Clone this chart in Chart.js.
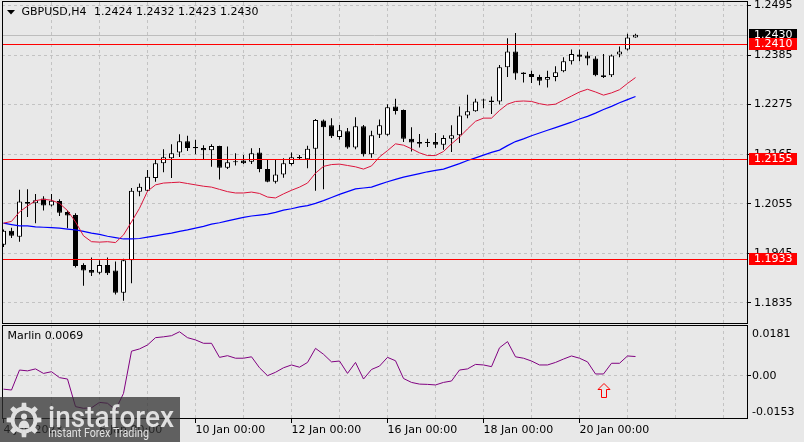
<!DOCTYPE html>
<html><head><meta charset="utf-8">
<script src="https://cdn.jsdelivr.net/npm/chart.js@4.4.1/dist/chart.umd.min.js"></script>
<style>
html,body{margin:0;padding:0;background:#e8e8e8;overflow:hidden}
#wrap{position:relative;width:804px;height:442px;background:#e8e8e8}
.pane{position:absolute;left:0;width:804px}
</style></head><body>
<div id="wrap">
<div class="pane" style="top:0;height:324px"><canvas id="main" width="804" height="324"></canvas></div>
<div class="pane" style="top:324px;height:118px"><canvas id="sub" width="804" height="118"></canvas></div>
</div>
<script>
// ---------------- data ----------------
const symbol = 'GBPUSD,H4';
const open  = [1.1964,1.1995,1.1982,1.2059,1.2056,1.2067,1.2051,1.2061,1.2037,1.2030,
               1.1919,1.1908,1.1902,1.1919,1.1907,1.1858,1.1930,1.2082,1.2084,1.2112,
               1.2145,1.2156,1.2169,1.2194,1.2181,1.2179,1.2174,1.2183,1.2135,1.2147,
               1.2151,1.2148,1.2169,1.2132,1.2104,1.2120,1.2143,1.2159,1.2154,1.2177,
               1.2240,1.2229,1.2203,1.2216,1.2180,1.2227,1.2165,1.2208,1.2208,1.2271,
               1.2263,1.2199,1.2192,1.2190,1.2192,1.2186,1.2199,1.2207,1.2251,1.2260,
               1.2284,1.2284,1.2282,1.2358,1.2393,1.2346,1.2343,1.2336,1.2330,1.2336,
               1.2349,1.2371,1.2386,1.2384,1.2377,1.2340,1.2340,1.2386,1.2397,1.2424];
const high  = [1.1998,1.2002,1.2086,1.2087,1.2077,1.2072,1.2077,1.2065,1.2040,1.2034,
               1.1923,1.1936,1.1930,1.1936,1.1927,1.1933,1.2090,1.2100,1.2130,1.2152,
               1.2176,1.2187,1.2209,1.2206,1.2197,1.2185,1.2187,1.2184,1.2182,1.2167,
               1.2163,1.2178,1.2179,1.2152,1.2154,1.2156,1.2169,1.2163,1.2184,1.2243,
               1.2242,1.2245,1.2230,1.2223,1.2247,1.2230,1.2217,1.2242,1.2276,1.2288,
               1.2264,1.2225,1.2210,1.2199,1.2212,1.2207,1.2229,1.2271,1.2297,1.2288,
               1.2288,1.2293,1.2363,1.2422,1.2434,1.2347,1.2350,1.2341,1.2350,1.2360,
               1.2380,1.2397,1.2397,1.2392,1.2382,1.2387,1.2386,1.2404,1.2432,1.2432];
const low   = [1.1959,1.1979,1.1971,1.2026,1.2012,1.2040,1.2049,1.2028,1.2001,1.1914,
               1.1873,1.1895,1.1899,1.1897,1.1854,1.1840,1.1879,1.2072,1.2083,1.2104,
               1.2125,1.2112,1.2159,1.2172,1.2165,1.2154,1.2137,1.2109,1.2132,1.2140,
               1.2143,1.2143,1.2125,1.2103,1.2100,1.2113,1.2140,1.2152,1.2134,1.2084,
               1.2087,1.2201,1.2197,1.2177,1.2176,1.2160,1.2157,1.2201,1.2206,1.2253,
               1.2192,1.2171,1.2180,1.2181,1.2179,1.2175,1.2170,1.2190,1.2245,1.2259,
               1.2267,1.2254,1.2275,1.2336,1.2330,1.2324,1.2323,1.2318,1.2313,1.2327,
               1.2347,1.2364,1.2371,1.2362,1.2338,1.2334,1.2336,1.2380,1.2395,1.2423];
const close = [1.1995,1.1984,1.2060,1.2055,1.2063,1.2051,1.2062,1.2035,1.2029,1.1917,
               1.1907,1.1902,1.1919,1.1901,1.1858,1.1930,1.2084,1.2093,1.2115,1.2145,
               1.2158,1.2167,1.2194,1.2179,1.2178,1.2174,1.2183,1.2135,1.2147,1.2148,
               1.2145,1.2167,1.2132,1.2104,1.2120,1.2145,1.2158,1.2156,1.2177,1.2241,
               1.2225,1.2205,1.2218,1.2180,1.2227,1.2165,1.2207,1.2229,1.2269,1.2261,
               1.2199,1.2191,1.2188,1.2190,1.2186,1.2201,1.2207,1.2251,1.2260,1.2282,
               1.2284,1.2281,1.2358,1.2393,1.2344,1.2343,1.2336,1.2328,1.2336,1.2347,
               1.2371,1.2387,1.2381,1.2377,1.2340,1.2336,1.2384,1.2393,1.2424,1.2430];
const maFast = [1.2012,1.2016,1.2037,1.2050,1.2062,1.2065,1.2063,1.2056,1.2040,1.2015,
                1.1984,1.1971,1.1970,1.1971,1.1969,1.1986,1.2015,1.2045,1.2083,1.2097,
                1.2101,1.2102,1.2103,1.2100,1.2097,1.2094,1.2092,1.2087,1.2082,1.2079,
                1.2079,1.2081,1.2078,1.2070,1.2068,1.2077,1.2085,1.2092,1.2101,1.2123,
                1.2138,1.2142,1.2143,1.2140,1.2137,1.2132,1.2139,1.2159,1.2173,1.2188,
                1.2185,1.2177,1.2168,1.2162,1.2162,1.2171,1.2188,1.2203,1.2221,1.2238,
                1.2245,1.2245,1.2262,1.2276,1.2282,1.2283,1.2282,1.2277,1.2274,1.2276,
                1.2285,1.2294,1.2303,1.2309,1.2303,1.2296,1.2301,1.2308,1.2322,1.2335];
const maSlow = [1.2012,1.2009,1.2006,1.2006,1.2004,1.2003,1.2002,1.2001,1.1999,1.1997,
                1.1994,1.1990,1.1987,1.1983,1.1980,1.1977,1.1977,1.1978,1.1981,1.1984,
                1.1987,1.1990,1.1994,1.1997,1.2001,1.2005,1.2010,1.2013,1.2017,1.2021,
                1.2025,1.2028,1.2030,1.2032,1.2036,1.2041,1.2044,1.2048,1.2051,1.2056,
                1.2062,1.2069,1.2076,1.2082,1.2088,1.2090,1.2092,1.2098,1.2104,1.2109,
                1.2114,1.2118,1.2122,1.2126,1.2129,1.2132,1.2138,1.2144,1.2151,1.2157,
                1.2163,1.2169,1.2174,1.2184,1.2193,1.2199,1.2206,1.2212,1.2218,1.2224,
                1.2230,1.2236,1.2243,1.2249,1.2256,1.2264,1.2271,1.2279,1.2286,1.2293];
const marlin = [-0.0047,-0.0050,0.0021,0.0018,0.0025,0.0009,0.0015,-0.0006,-0.0011,-0.0109,
                -0.0115,-0.0113,-0.0094,-0.0097,-0.0121,-0.0062,0.0088,0.0096,0.0110,0.0136,
                0.0139,0.0143,0.0157,0.0136,0.0128,0.0116,0.0116,0.0066,0.0072,0.0063,
                0.0063,0.0068,0.0029,0.0001,0.0013,0.0029,0.0039,0.0031,0.0048,0.0098,
                0.0077,0.0050,0.0053,0.0009,0.0048,-0.0011,0.0023,0.0035,0.0066,0.0054,
                -0.0009,-0.0023,-0.0029,-0.0030,-0.0032,-0.0023,-0.0018,0.0021,0.0025,0.0041,
                0.0039,0.0033,0.0100,0.0122,0.0068,0.0063,0.0053,0.0039,0.0039,0.0048,
                0.0060,0.0071,0.0063,0.0050,0.0007,0.0007,0.0045,0.0045,0.0071,0.0069];
const priceTicks = [1.2495,1.2385,1.2275,1.2165,1.2055,1.1945,1.1835];
const levelLines = [1.2410,1.2155,1.1933];
const lastPrice = 1.2430;
const marlinMax = 0.0181, marlinMin = -0.0153;
const dateTickLabels = ['4 Jan 2023','6 Jan 00:00','10 Jan 00:00','12 Jan 00:00','16 Jan 00:00','18 Jan 00:00','20 Jan 00:00'];
const barsPerLabel = 12, barsPerGrid = 6;
const signalBar = 75;

// ---------------- styling ----------------
const FONT = {family:'DejaVu Sans', size:11};
const FONT_CSS = '11px "DejaVu Sans"';
const GRID = '#c3c3c3';
const X_MIN = -0.1875, X_MAX = 92.9375;
const Y_MIN = 1.179064, Y_MAX = 1.250255;

function gridTicks(from){ const t=[]; for(let v=from; v<=X_MAX; v+=barsPerGrid) t.push({value:v}); return t; }
function zeroPad(s){ s.paddingTop=0; s.paddingBottom=0; s.paddingLeft=0; s.paddingRight=0; }

const wicks = open.map((o,i)=>({x:i, y:[low[i], high[i]]}));
const bodies = open.map((o,i)=>({x:i, y:[Math.min(o,close[i]), Math.max(o,close[i])]}));
const bodyColors = open.map((o,i)=> close[i] >= o ? '#ffffff' : '#000000');

function priceBox(ctx, y, text, bg){
  const py = Math.round(y);
  ctx.fillStyle = bg; ctx.fillRect(749, py-6, 48, 12);
  ctx.fillStyle = '#ffffff'; ctx.font = FONT_CSS; ctx.textBaseline='middle'; ctx.textAlign='left';
  ctx.fillText(text, 754, py+0.5);
}

const mainDecor = {
  id:'mainDecor',
  beforeDatasetsDraw(chart){
    const {ctx, chartArea:a, scales:{y}} = chart;
    ctx.save();
    const py = Math.round(y.getPixelForValue(lastPrice))+0.5;
    ctx.strokeStyle='#bdbdbd'; ctx.lineWidth=1;
    ctx.beginPath(); ctx.moveTo(a.left, py); ctx.lineTo(a.right, py); ctx.stroke();
    ctx.restore();
  },
  afterDatasetsDraw(chart){
    const {ctx, chartArea:a, scales:{y}} = chart;
    ctx.save();
    ctx.strokeStyle='#ff0000'; ctx.lineWidth=1;
    levelLines.forEach(v=>{
      const py = Math.round(y.getPixelForValue(v))+0.5;
      ctx.beginPath(); ctx.moveTo(a.left, py); ctx.lineTo(a.right, py); ctx.stroke();
    });
    ctx.restore();
  },
  afterDraw(chart){
    const {ctx, chartArea:a, scales:{y}} = chart;
    ctx.save();
    priceBox(ctx, y.getPixelForValue(lastPrice), lastPrice.toFixed(4), '#000000');
    levelLines.forEach(v=> priceBox(ctx, y.getPixelForValue(v), v.toFixed(4), '#ff0000'));
    // frame
    ctx.strokeStyle='#000'; ctx.lineWidth=1;
    ctx.strokeRect(2.5, 1.5, 745, 322);
    // title
    ctx.fillStyle='#000';
    ctx.beginPath(); ctx.moveTo(7,10); ctx.lineTo(15,10); ctx.lineTo(11,14.5); ctx.closePath(); ctx.fill();
    ctx.font = FONT_CSS; ctx.textBaseline='middle'; ctx.textAlign='left';
    const n = open.length-1;
    ctx.fillText(symbol, 21.5, 12.5);
    ctx.fillText([open[n],high[n],low[n],close[n]].map(v=>v.toFixed(4)).join(' '), 94, 12.5);
    ctx.restore();
  }
};

function drawWatermark(ctx){
  const top = 73;
  ctx.save();
  ctx.fillStyle='rgba(48,48,48,0.74)';
  ctx.fillRect(0, top, 180, 45);
  // gear
  const cx=24, cy=top+23, R=17.5, r=13.5, hole=9.5, teeth=8, step=2*Math.PI/teeth;
  ctx.beginPath();
  for(let k=0;k<teeth;k++){
    const a=k*step-Math.PI/2;
    const pts=[[r,a-0.5*step],[r,a-0.24*step],[R,a-0.16*step],[R,a+0.16*step],[r,a+0.24*step]];
    pts.forEach(([rad,ang],j)=>{ const px=cx+rad*Math.cos(ang), py=cy+rad*Math.sin(ang); if(k===0&&j===0) ctx.moveTo(px,py); else ctx.lineTo(px,py); });
  }
  ctx.closePath();
  ctx.moveTo(cx+hole, cy); ctx.arc(cx, cy, hole, 0, Math.PI*2, true);
  ctx.fillStyle='rgba(236,236,236,0.92)';
  ctx.fill('evenodd');
  // person inside gear
  ctx.beginPath(); ctx.arc(cx, cy-3.5, 3, 0, Math.PI*2); ctx.fill();
  ctx.beginPath(); ctx.moveTo(cx-5.5, cy+8); ctx.quadraticCurveTo(cx-5, cy+0.5, cx, cy+0.5); ctx.quadraticCurveTo(cx+5, cy+0.5, cx+5.5, cy+8); ctx.closePath(); ctx.fill();
  // texts
  ctx.textAlign='left'; ctx.textBaseline='alphabetic';
  ctx.font='500 29px Roboto';
  let w = ctx.measureText('instaforex').width;
  ctx.save(); ctx.translate(48, top+30); ctx.scale(126/w, 1); ctx.fillText('instaforex', 0, 0); ctx.restore();
  ctx.font='12px Roboto';
  w = ctx.measureText('Instant Forex Trading').width;
  ctx.save(); ctx.translate(48, top+40); ctx.scale(101/w, 1); ctx.fillText('Instant Forex Trading', 0, 0); ctx.restore();
  ctx.restore();
}

const subDecor = {
  id:'subDecor',
  afterDraw(chart){
    const {ctx, chartArea:a, scales:{x,y}} = chart;
    ctx.save();
    ctx.strokeStyle='#000'; ctx.lineWidth=1;
    ctx.strokeRect(2.5, 1.5, 745, 93);
    ctx.fillStyle='#000'; ctx.font=FONT_CSS; ctx.textBaseline='middle'; ctx.textAlign='left';
    ctx.fillText('Marlin ' + marlin[marlin.length-1].toFixed(4), 7.5, 12.5);
    ctx.fillText(marlinMax.toFixed(4), 752, y.getPixelForValue(marlinMax)+9);
    ctx.fillText(marlinMin.toFixed(4), 752, y.getPixelForValue(marlinMin)-7);
    // signal arrow
    const c = Math.round(x.getPixelForValue(signalBar)) - 0.5 + 0.5;
    const ty = Math.round(y.getPixelForValue(0)) + 7.5;
    ctx.strokeStyle='#ff0000';
    ctx.beginPath();
    ctx.moveTo(c, ty); ctx.lineTo(c+6, ty+6); ctx.lineTo(c+2.5, ty+6); ctx.lineTo(c+2.5, ty+14);
    ctx.lineTo(c-2.5, ty+14); ctx.lineTo(c-2.5, ty+6); ctx.lineTo(c-6, ty+6); ctx.closePath(); ctx.stroke();
    drawWatermark(ctx);
    ctx.restore();
  }
};

const common = {responsive:false, animation:false, events:[], plugins:{legend:{display:false}, tooltip:{enabled:false}}};

new Chart(document.getElementById('main'), {
  type:'bar',
  data:{datasets:[
    {type:'line', label:'MA fast', data:maFast.map((v,i)=>({x:i,y:v})), borderColor:'#dc143c', borderWidth:1, pointRadius:0, tension:0, order:0},
    {type:'line', label:'MA slow', data:maSlow.map((v,i)=>({x:i,y:v})), borderColor:'#0000ff', borderWidth:1.2, pointRadius:0, tension:0, order:0},
    {type:'bar', label:'body', data:bodies, backgroundColor:bodyColors, borderColor:'#000000', borderWidth:1, borderSkipped:false, barThickness:5, minBarLength:1, grouped:false, inflateAmount:0, order:1},
    {type:'bar', label:'wick', data:wicks, backgroundColor:'#000000', borderWidth:0, barThickness:1, grouped:false, inflateAmount:0, order:2}
  ]},
  options:Object.assign({}, common, {
    layout:{padding:{left:2,right:0,top:2,bottom:1}},
    scales:{
      x:{type:'linear', min:X_MIN, max:X_MAX, bounds:'data', offset:false, position:'bottom',
         afterBuildTicks:s=>{ s.ticks = gridTicks(barsPerGrid); },
         afterFit:s=>{ s.height=0; zeroPad(s); },
         ticks:{display:false},
         grid:{offset:false, color:GRID, lineWidth:1, drawTicks:false},
         border:{display:false, dash:[3,3]}},
      y:{type:'linear', position:'right', min:Y_MIN, max:Y_MAX, bounds:'data',
         afterBuildTicks:s=>{ s.ticks = priceTicks.map(v=>({value:v})); },
         afterFit:s=>{ s.width=57; zeroPad(s); },
         ticks:{callback:v=>Number(v).toFixed(4), font:FONT, color:'#000', padding:3, autoSkip:false},
         grid:{color:GRID, lineWidth:1, tickColor:'#000', tickLength:4, drawTicks:true},
         border:{display:false, dash:[3,3]}}
    }
  }),
  plugins:[mainDecor]
});

new Chart(document.getElementById('sub'), {
  type:'line',
  data:{datasets:[
    {label:'Marlin', data:marlin.map((v,i)=>({x:i,y:v})), borderColor:'#800080', borderWidth:1, pointRadius:0, tension:0}
  ]},
  options:Object.assign({}, common, {
    layout:{padding:{left:2,right:0,top:1,bottom:0}},
    scales:{
      x:{type:'linear', min:X_MIN, max:X_MAX, bounds:'data', offset:false, position:'bottom',
         afterBuildTicks:s=>{ s.ticks = gridTicks(0); },
         afterFit:s=>{ s.height=23; zeroPad(s); },
         ticks:{display:true, autoSkip:false, maxRotation:0, minRotation:0, align:'start', padding:1, font:FONT, color:'#000',
                callback:v=>{ const k=v/barsPerLabel; return (Number.isInteger(k) && k<dateTickLabels.length) ? dateTickLabels[k] : ''; }},
         grid:{offset:false, lineWidth:1, tickLength:4, drawTicks:true,
               color:c=> (c.tick && c.tick.value>0) ? GRID : 'rgba(0,0,0,0)',
               tickColor:c=>{ if(!c.tick) return 'rgba(0,0,0,0)'; const k=c.tick.value/barsPerLabel; return (Number.isInteger(k)&&k<dateTickLabels.length)?'#000':'rgba(0,0,0,0)'; }},
         border:{display:false, dash:[3,3]}},
      y:{type:'linear', position:'right', min:marlinMin, max:marlinMax, bounds:'data',
         afterBuildTicks:s=>{ s.ticks=[{value:0}]; },
         afterFit:s=>{ s.width=57; zeroPad(s); },
         ticks:{callback:()=> '0.00', font:FONT, color:'#000', padding:1, autoSkip:false},
         grid:{color:GRID, lineWidth:1, tickColor:'#000', tickLength:4, drawTicks:true},
         border:{display:false, dash:[3,3]}}
    }
  }),
  plugins:[subDecor]
});
</script>
</body></html>
